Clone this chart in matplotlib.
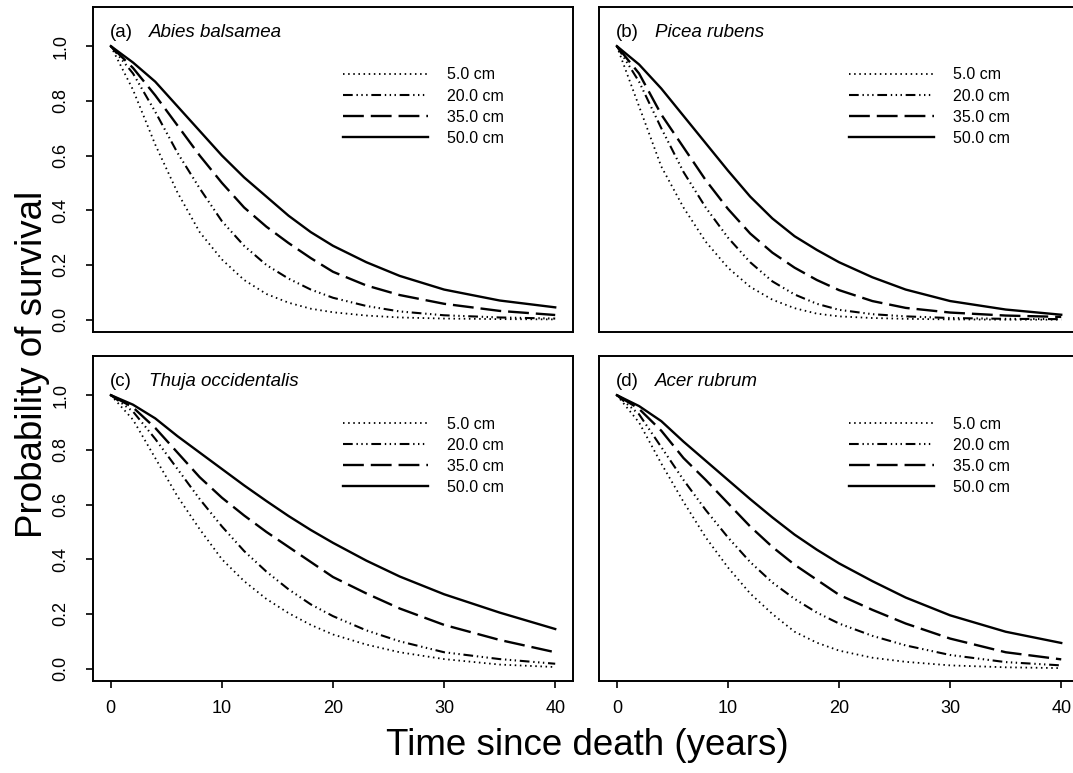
import matplotlib
matplotlib.use('Agg')
import matplotlib.pyplot as plt

plt.rcParams['font.family'] = ['Liberation Sans', 'DejaVu Sans']
plt.rcParams['lines.scale_dashes'] = False

years = [0, 2, 4, 6, 8, 10, 12, 14, 16, 18, 20, 23, 26, 30, 35, 40]

dbh_labels = ['5.0 cm', '20.0 cm', '35.0 cm', '50.0 cm']
panel_tags = ['(a)', '(b)', '(c)', '(d)']
species = ['Abies balsamea', 'Picea rubens', 'Thuja occidentalis', 'Acer rubrum']

# survival probabilities, one list per diameter class
abies_5 = [1, 0.84, 0.64, 0.465, 0.32, 0.22, 0.145, 0.094, 0.062, 0.040, 0.027, 0.015, 0.008, 0.004, 0.002, 0.001]
abies_20 = [1, 0.90, 0.76, 0.61, 0.48, 0.36, 0.27, 0.20, 0.15, 0.11, 0.08, 0.05, 0.03, 0.016, 0.008, 0.004]
abies_35 = [1, 0.92, 0.82, 0.71, 0.60, 0.50, 0.41, 0.34, 0.28, 0.225, 0.175, 0.125, 0.09, 0.058, 0.032, 0.017]
abies_50 = [1, 0.94, 0.87, 0.78, 0.69, 0.60, 0.52, 0.45, 0.38, 0.32, 0.27, 0.21, 0.16, 0.11, 0.07, 0.045]

picea_5 = [1, 0.78, 0.56, 0.41, 0.285, 0.19, 0.12, 0.073, 0.042, 0.022, 0.012, 0.006, 0.003, 0.001, 0.0, 0.0]
picea_20 = [1, 0.87, 0.70, 0.54, 0.41, 0.30, 0.21, 0.14, 0.092, 0.058, 0.036, 0.02, 0.012, 0.006, 0.003, 0.002]
picea_35 = [1, 0.90, 0.75, 0.63, 0.51, 0.405, 0.315, 0.245, 0.19, 0.145, 0.108, 0.068, 0.043, 0.026, 0.015, 0.01]
picea_50 = [1, 0.933, 0.845, 0.745, 0.645, 0.545, 0.45, 0.37, 0.305, 0.255, 0.21, 0.155, 0.11, 0.068, 0.037, 0.018]

thuja_5 = [1, 0.91, 0.77, 0.63, 0.51, 0.40, 0.32, 0.255, 0.203, 0.16, 0.125, 0.088, 0.06, 0.035, 0.015, 0.006]
thuja_20 = [1, 0.94, 0.84, 0.73, 0.62, 0.52, 0.43, 0.355, 0.29, 0.235, 0.192, 0.14, 0.10, 0.06, 0.035, 0.018]
thuja_35 = [1, 0.955, 0.88, 0.79, 0.70, 0.625, 0.56, 0.50, 0.445, 0.39, 0.335, 0.275, 0.22, 0.16, 0.105, 0.06]
thuja_50 = [1, 0.965, 0.915, 0.85, 0.79, 0.73, 0.67, 0.613, 0.558, 0.507, 0.46, 0.395, 0.337, 0.272, 0.205, 0.145]

acer_5 = [1, 0.90, 0.75, 0.61, 0.48, 0.37, 0.275, 0.20, 0.135, 0.095, 0.066, 0.04, 0.025, 0.012, 0.005, 0.002]
acer_20 = [1, 0.93, 0.81, 0.69, 0.58, 0.48, 0.39, 0.315, 0.255, 0.205, 0.165, 0.12, 0.085, 0.05, 0.024, 0.012]
acer_35 = [1, 0.95, 0.87, 0.77, 0.69, 0.605, 0.52, 0.445, 0.38, 0.325, 0.27, 0.215, 0.165, 0.11, 0.06, 0.034]
acer_50 = [1, 0.96, 0.905, 0.83, 0.76, 0.69, 0.62, 0.553, 0.49, 0.435, 0.385, 0.32, 0.26, 0.195, 0.135, 0.094]

curves = [
    [abies_5, abies_20, abies_35, abies_50],
    [picea_5, picea_20, picea_35, picea_50],
    [thuja_5, thuja_20, thuja_35, thuja_50],
    [acer_5, acer_20, acer_35, acer_50],
]

# line look per diameter class: dotted, dash-dot-dot-dot, dashed, solid
styles = [
    dict(lw=1.3, dashes=(1.1, 2.6)),
    dict(lw=1.5, dashes=(7, 2.7, 1, 2.5, 1, 2.5, 1, 2.7)),
    dict(lw=1.7, dashes=(15, 5)),
    dict(lw=1.7),
]

fig = plt.figure(figsize=(10.73, 7.73), dpi=100)

# axes boxes in figure fractions (right column runs off the page edge)
col_left = [0.0867, 0.5583]
row_bottom = [0.5709, 0.1194]
box_w, box_h = 0.4473, 0.4204

for i in range(4):
    r, c = divmod(i, 2)
    ax = fig.add_axes([col_left[c], row_bottom[r], box_w, box_h])
    for ys, lab, st in zip(curves[i], dbh_labels, styles):
        ax.plot(years, ys, color='black', label=lab, **st)

    ax.set_xlim(-1.6, 41.6)
    ax.set_ylim(-0.044, 1.144)
    for sp in ax.spines.values():
        sp.set_linewidth(1.4)

    ax.set_xticks([0, 10, 20, 30, 40])
    ax.set_yticks([0, 0.2, 0.4, 0.6, 0.8, 1.0])
    ax.tick_params(length=5, width=1.2, labelsize=13, direction='out')
    ax.tick_params(axis='y', pad=12)
    ax.tick_params(axis='x', pad=9)
    if c == 0:
        ax.set_yticklabels(['0.0', '0.2', '0.4', '0.6', '0.8', '1.0'], rotation=90, va='center')
    else:
        ax.tick_params(axis='y', left=False, labelleft=False)
    if r == 0:
        ax.tick_params(axis='x', bottom=False, labelbottom=False)

    ax.text(-0.1, 1.05, panel_tags[i], fontsize=13.5, ha='left', va='center')
    ax.text(3.4, 1.05, species[i], fontsize=13.5, style='italic', ha='left', va='center')

    ax.legend(loc='upper left', bbox_to_anchor=(0.521, 0.813), frameon=False,
              fontsize=11.5, handlelength=5.3, handletextpad=1.2,
              labelspacing=0.38, borderpad=0, borderaxespad=0)

fig.text(0.030, 0.528, 'Probability of survival', rotation=90, fontsize=26.5,
         ha='center', va='center')
fig.text(0.547, 0.036, 'Time since death (years)', fontsize=26.5,
         ha='center', va='center')

fig.savefig('out.png', dpi=100)
